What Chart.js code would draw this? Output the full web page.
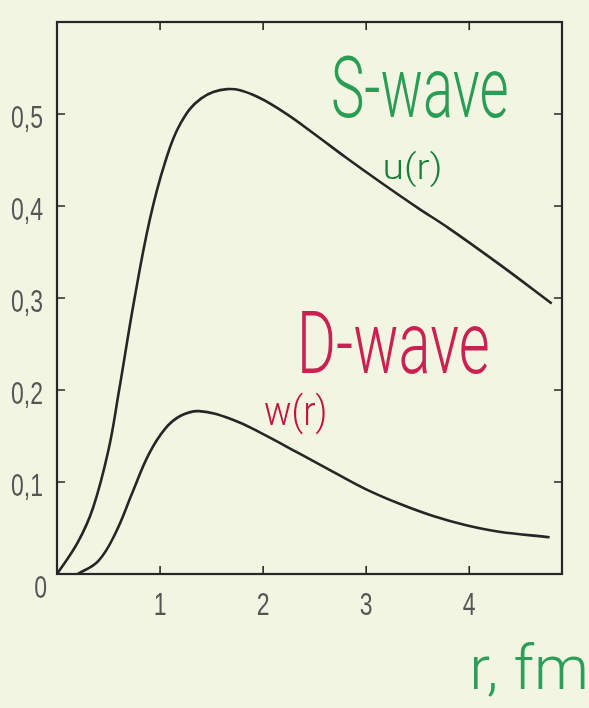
<!DOCTYPE html>
<html><head><meta charset="utf-8">
<script src="https://cdn.jsdelivr.net/npm/chart.js@4.4.1/dist/chart.umd.min.js"></script>
<style>
html,body{margin:0;padding:0;background:#f2f5e2;}
#wrap{width:589px;height:708px;position:relative;}
</style>
</head><body>
<div id="wrap"><canvas id="c" width="589" height="708"></canvas></div>
<script>
// r in fm
const rS = [0, 0.2, 0.35, 0.5, 0.6, 0.75, 0.9, 1.05, 1.2, 1.4, 1.65, 1.9, 2.2, 2.5, 2.8, 3.15, 3.5, 3.8, 4.3, 4.8];
const uS = [0, 0.034, 0.072, 0.135, 0.198, 0.298, 0.385, 0.448, 0.49, 0.517, 0.527, 0.521, 0.502, 0.478, 0.453, 0.425, 0.398, 0.376, 0.336, 0.294];
const rD = [0.2, 0.4, 0.57, 0.73, 0.89, 1.05, 1.2, 1.38, 1.7, 2.0, 2.35, 2.68, 3.0, 3.33, 3.65, 3.97, 4.29, 4.78];
const wD = [0, 0.014, 0.045, 0.088, 0.13, 0.158, 0.172, 0.177, 0.168, 0.152, 0.131, 0.111, 0.092, 0.076, 0.063, 0.053, 0.046, 0.040];
const yTickValues = [0, 0.1, 0.2, 0.3, 0.4, 0.5];
const yTickLabels = ['0', '0,1', '0,2', '0,3', '0,4', '0,5'];
const xTickValues = [1, 2, 3, 4];
const xTickLabels = ['1', '2', '3', '4'];

const BG = '#f2f5e2';
const INK = '#262626';
const LABEL = '#555555';
const TICKFONT = '32px "Liberation Sans", Arial, sans-serif';
const HAND = '300 80px Roboto, "DejaVu Sans", sans-serif';

function fitText(ctx, text, color, x0, y0, x1, y1) {
  ctx.save();
  ctx.font = HAND;
  ctx.textAlign = 'left';
  ctx.textBaseline = 'alphabetic';
  const m = ctx.measureText(text);
  const w = m.actualBoundingBoxLeft + m.actualBoundingBoxRight;
  const h = m.actualBoundingBoxAscent + m.actualBoundingBoxDescent;
  ctx.translate(x0, y0);
  ctx.scale((x1 - x0) / w, (y1 - y0) / h);
  ctx.fillStyle = color;
  ctx.fillText(text, m.actualBoundingBoxLeft, m.actualBoundingBoxAscent);
  ctx.restore();
}

function narrowText(ctx, text, x, y, align) {
  ctx.save();
  ctx.translate(x, y);
  ctx.scale(0.72, 1);
  ctx.textAlign = align;
  ctx.fillText(text, 0, 0);
  ctx.restore();
}

const framePlugin = {
  id: 'frame',
  beforeDraw(chart) {
    const ctx = chart.ctx;
    ctx.save();
    ctx.fillStyle = BG;
    ctx.fillRect(0, 0, chart.width, chart.height);
    ctx.restore();
  },
  afterDatasetsDraw(chart) {
    const ctx = chart.ctx;
    const a = chart.chartArea;
    const xs = chart.scales.x, ys = chart.scales.y;
    ctx.save();
    ctx.strokeStyle = INK;
    ctx.lineWidth = 2.2;
    ctx.strokeRect(a.left, a.top, a.right - a.left, a.bottom - a.top);
    ctx.lineWidth = 1.6;
    const tl = 8;
    ctx.beginPath();
    yTickValues.forEach(v => {
      if (v === 0) return;
      const y = ys.getPixelForValue(v);
      ctx.moveTo(a.left, y); ctx.lineTo(a.left + tl, y);
      ctx.moveTo(a.right, y); ctx.lineTo(a.right - tl, y);
    });
    xTickValues.forEach(v => {
      const x = xs.getPixelForValue(v);
      ctx.moveTo(x, a.bottom); ctx.lineTo(x, a.bottom - tl);
      ctx.moveTo(x, a.top); ctx.lineTo(x, a.top + tl);
    });
    ctx.stroke();

    ctx.fillStyle = LABEL;
    ctx.font = TICKFONT;
    ctx.textBaseline = 'middle';
    yTickValues.forEach((v, i) => {
      const y = ys.getPixelForValue(v) + (v === 0 ? 15 : 5);
      narrowText(ctx, yTickLabels[i], a.left - (v === 0 ? 10 : 14), y, 'right');
    });
    xTickValues.forEach((v, i) => {
      narrowText(ctx, xTickLabels[i], xs.getPixelForValue(v), a.bottom + 32, 'center');
    });
    ctx.restore();

    // handwritten annotations
    fitText(ctx, 'S-wave', '#2a9d55', 333, 55, 507, 118);
    fitText(ctx, 'u(r)', '#1a7d3a', 385, 150, 440, 187);
    fitText(ctx, 'D-wave', '#cc1f52', 302, 311, 488, 374);
    fitText(ctx, 'w(r)', '#c2103f', 265, 393, 325, 435);
    fitText(ctx, 'r, fm', '#2c9e58', 474, 642, 585, 698);
  }
};

new Chart(document.getElementById('c'), {
  type: 'line',
  data: {
    datasets: [
      { label: 'u(r)', data: rS.map((r, i) => ({ x: r, y: uS[i] })), borderColor: INK, borderWidth: 2.6,
        pointRadius: 0, tension: 0.4, fill: false },
      { label: 'w(r)', data: rD.map((r, i) => ({ x: r, y: wD[i] })), borderColor: INK, borderWidth: 2.6,
        pointRadius: 0, tension: 0.4, fill: false }
    ]
  },
  options: {
    responsive: false,
    animation: false,
    devicePixelRatio: 1,
    layout: { padding: { left: 57, right: 27, top: 22, bottom: 134 } },
    scales: {
      x: { type: 'linear', min: 0, max: 4.9, display: false },
      y: { type: 'linear', min: 0, max: 0.6, display: false }
    },
    plugins: { legend: { display: false }, tooltip: { enabled: false } }
  },
  plugins: [framePlugin]
});
</script>
</body></html>
